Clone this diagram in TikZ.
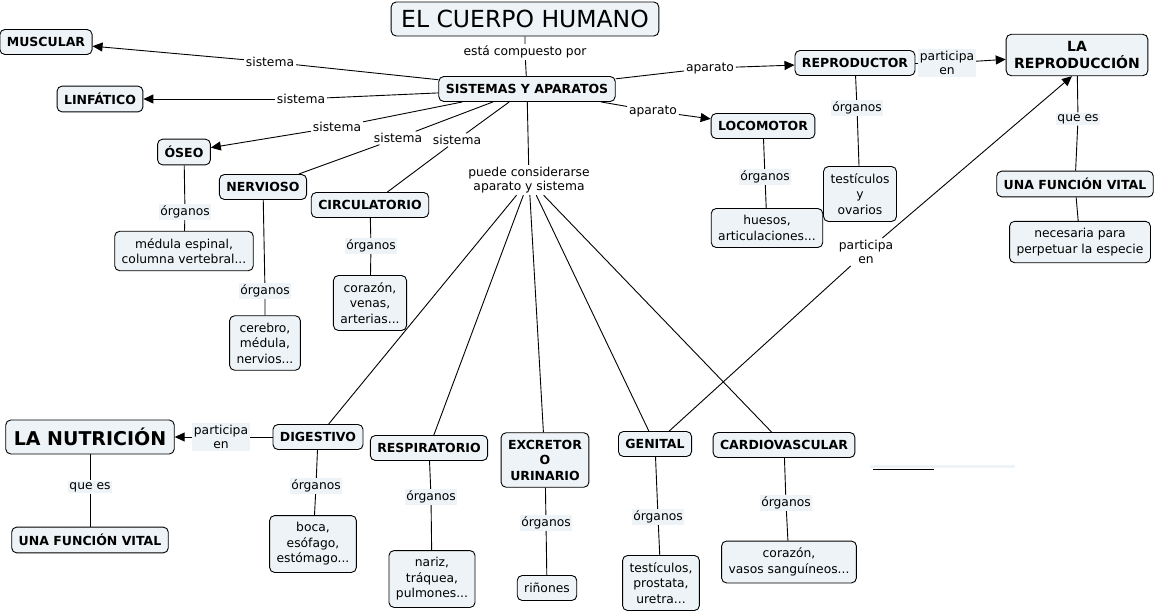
\documentclass[tikz,border=0pt]{standalone}
\usepackage{fontspec}
\setmainfont{DejaVu Sans}
\usetikzlibrary{arrows.meta}
\definecolor{boxfill}{HTML}{EDF3F6}
\tikzset{
  cbox/.style={draw, rounded corners=5pt, fill=boxfill, line width=0.9pt, inner xsep=7pt, inner ysep=7pt, minimum height=25pt, align=center, font=\fontsize{12.5}{15.5}\selectfont\bfseries},
  ibox/.style={cbox, font=\fontsize{12.3}{15.5}\selectfont},
  titlebox/.style={cbox, inner xsep=10pt, minimum height=34pt, font=\fontsize{23.5}{28}\selectfont},
  lbl/.style={fill=white, inner sep=1.5pt, align=center, font=\fontsize{12.3}{14.5}\selectfont},
  lblg/.style={lbl, fill=boxfill},
  >={Triangle[length=10pt,width=9pt]}
}
\begin{document}
\begin{tikzpicture}[x=1pt,y=-1pt,line width=0.9pt]
\useasboundingbox (0,0) rectangle (1160,613);

% Title
\node[titlebox] (cuerpo) at (525,19) {EL CUERPO HUMANO};
\node[cbox] (sist) at (527,89) {SISTEMAS Y APARATOS};
\node[lbl] (lcomp) at (525,52) {está compuesto por};
\draw (cuerpo) -- (lcomp) -- (sist);

% Sistemas
\node[cbox] (musc) at (46,42) {MUSCULAR};
\node[cbox] (linf) at (100,99) {LINFÁTICO};
\node[cbox] (oseo) at (184,152) {ÓSEO};
\node[cbox] (nerv) at (263,187) {NERVIOSO};
\node[cbox] (circ) at (370,205) {CIRCULATORIO};
\node[lbl] (lmusc) at (270,62) {sistema};
\node[lbl] (llinf) at (301,99) {sistema};
\node[lbl] (loseo) at (337,127) {sistema};
\node[lbl] (lnerv) at (398,138) {sistema};
\node[lbl] (lcirc) at (457,140) {sistema};
\draw (sist) -- (lmusc); \draw[->] (lmusc) -- (musc);
\draw (sist) -- (llinf); \draw[->] (llinf) -- (linf);
\draw (sist) -- (loseo); \draw[->] (loseo) -- (oseo);
\draw (sist) -- (lnerv) -- (nerv);
\draw (sist) -- (lcirc) -- (circ);

% Organos de los sistemas
\node[lblg] (ooseo) at (185,212) {órganos};
\node[ibox] (medula) at (184,251) {médula espinal,\\columna vertebral...};
\node[lblg] (onerv) at (265,291) {órganos};
\node[ibox] (cerebro) at (265,343) {cerebro,\\médula,\\nervios...};
\node[lblg] (ocirc) at (371,246) {órganos};
\node[ibox] (corazon) at (370,303) {corazón,\\venas,\\arterias...};
\draw (oseo) -- (ooseo) -- (medula);
\draw (nerv) -- (onerv) -- (cerebro);
\draw (circ) -- (ocirc) -- (corazon);

% Aparatos
\node[cbox] (repr) at (855,63) {REPRODUCTOR};
\node[cbox] (loco) at (763,126) {LOCOMOTOR};
\node[lbl] (lrepr) at (710,68) {aparato};
\node[lbl] (lloco) at (653,111) {aparato};
\draw (sist) -- (lrepr); \draw[->] (lrepr) -- (repr);
\draw (sist) -- (lloco); \draw[->] (lloco) -- (loco);
\node[lblg] (orepr) at (857,108) {órganos};
\node[ibox] (testov) at (860,194) {testículos\\y\\ovarios};
\node[lblg] (oloco) at (765,177) {órganos};
\node[ibox] (huesos) at (767,228) {huesos,\\articulaciones...};
\draw (repr) -- (orepr) -- (testov);
\draw (loco) -- (oloco) -- (huesos);

% Reproduccion
\node[cbox, font=\fontsize{14}{17}\selectfont\bfseries, inner xsep=8pt] (reprod) at (1077,55) {LA\\REPRODUCCIÓN};
\node[lblg] (prepr) at (947,63) {participa\\en};
\draw (repr) -- (prepr); \draw[->] (prepr) -- (reprod);
\node[lblg] (qrepr) at (1078,119) {que es};
\node[cbox] (vital) at (1075,184) {UNA FUNCIÓN VITAL};
\node[ibox] (especie) at (1080,242) {necesaria para\\perpetuar la especie};
\draw (reprod) -- (qrepr) -- (vital) -- (especie);

% Aparato y sistema
\node[lbl] (lpuede) at (529,180) {puede considerarse\\aparato y sistema};
\draw (sist) -- (lpuede);
\node[cbox] (dig) at (318,437) {DIGESTIVO};
\node[cbox] (resp) at (429,448) {RESPIRATORIO};
\node[cbox] (excr) at (545,460) {EXCRETOR\\O\\URINARIO};
\node[cbox] (gen) at (655,444) {GENITAL};
\node[cbox] (card) at (784,445) {CARDIOVASCULAR};
\foreach \n in {dig,resp,excr,gen,card}
  \draw (lpuede) -- (\n);

% Nutricion
\node[cbox, font=\fontsize{19}{22}\selectfont\bfseries, inner xsep=8pt, minimum height=34pt] (nutri) at (90,437) {LA NUTRICIÓN};
\node[lblg] (pnutri) at (221,437) {participa\\en};
\draw (dig) -- (pnutri); \draw[->] (pnutri) -- (nutri);
\node[lblg] (qnutri) at (90,487) {que es};
\node[cbox] (vital2) at (90,540) {UNA FUNCIÓN VITAL};
\draw (nutri) -- (qnutri) -- (vital2);

% Genital participa en la reproduccion
\node[lbl] (pgen) at (866,252) {participa\\en};
\draw (gen) -- (pgen); \draw[->] (pgen) -- ([xshift=-5pt]reprod.south);

% Organos de los aparatos
\node[lblg] (odig) at (316,486) {órganos};
\node[ibox] (boca) at (313,544) {boca,\\esófago,\\estómago...};
\node[lblg] (oresp) at (431,497) {órganos};
\node[ibox] (nariz) at (432,579) {nariz,\\tráquea,\\pulmones...};
\node[lblg] (oexcr) at (546,523) {órganos};
\node[ibox] (rinon) at (547,588) {riñones};
\node[lblg] (ogen) at (658,517) {órganos};
\node[ibox] (testpr) at (661,583) {testículos,\\prostata,\\uretra...};
\node[lblg] (ocard) at (786,503) {órganos};
\node[ibox] (vasos) at (789,562) {corazón,\\vasos sanguíneos...};
\draw (dig) -- (odig) -- (boca);
\draw (resp) -- (oresp) -- (nariz);
\draw (excr) -- (oexcr) -- (rinon);
\draw (gen) -- (ogen) -- (testpr);
\draw (card) -- (ocard) -- (vasos);

% Trazo suelto
\fill[boxfill] (870,465) rectangle (1015,468);
\draw[line width=0.7pt] (873,469) -- (934,469);
\end{tikzpicture}
\end{document}
